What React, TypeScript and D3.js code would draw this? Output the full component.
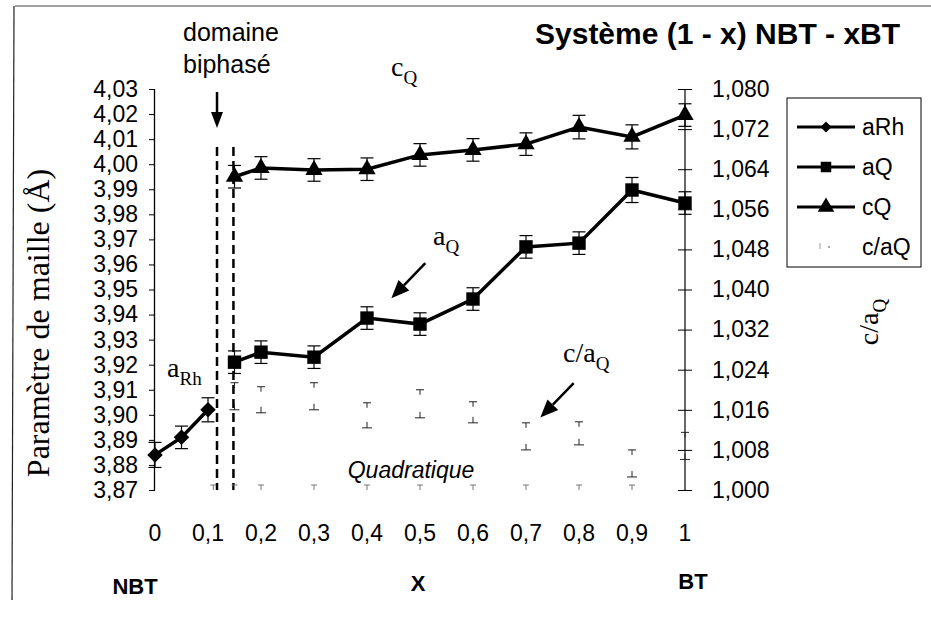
import * as d3 from "d3";
import { useEffect, useRef } from "react";

// données
const xsRh = [0, 0.05, 0.1];
const aRh = [3.884, 3.891, 3.902];
const aRhErr = [0.005, 0.0045, 0.0048];

const xsQ = [0.15, 0.2, 0.3, 0.4, 0.5, 0.6, 0.7, 0.8, 0.9, 1];
const aQ = [3.921, 3.925, 3.923, 3.9386, 3.9362, 3.9462, 3.967, 3.9685, 3.9897, 3.9845];
const aQErr = [0.0045, 0.0045, 0.0045, 0.0045, 0.0045, 0.0045, 0.0045, 0.0045, 0.005, 0.0045];
const cQ = [3.995, 3.9985, 3.9977, 3.998, 4.0037, 4.0057, 4.008, 4.0148, 4.0109, 4.0196];
const cQErr = [0.0045, 0.0045, 0.0045, 0.0045, 0.0045, 0.0045, 0.0045, 0.0047, 0.0048, 0.0045];
const caQ = [1.0187, 1.018, 1.0187, 1.0149, 1.0172, 1.0155, 1.0107, 1.0113, 1.0053, 1.0088];
const caQErr = [0.0027, 0.0026, 0.0027, 0.0025, 0.0028, 0.0021, 0.0027, 0.0023, 0.0027, 0.0027];
const caBaseX = [0.11, 0.15, 0.2, 0.3, 0.4, 0.5, 0.6, 0.7, 0.8, 0.9];

const leftTicks = [3.87, 3.88, 3.89, 3.9, 3.91, 3.92, 3.93, 3.94, 3.95, 3.96, 3.97, 3.98, 3.99, 4.0, 4.01, 4.02, 4.03];
const rightTicks = [1.0, 1.008, 1.016, 1.024, 1.032, 1.04, 1.048, 1.056, 1.064, 1.072, 1.08];
const xTicks = [0, 0.1, 0.2, 0.3, 0.4, 0.5, 0.6, 0.7, 0.8, 0.9, 1];
const biphaseBounds = [0.117, 0.148];
const legendNames = ["aRh", "aQ", "cQ", "c/aQ"];

const SANS = "'Liberation Sans', Arial, sans-serif";
const SERIF = "'Liberation Serif', 'Times New Roman', serif";

const App = () => {
    const chartRef = useRef<SVGSVGElement | null>(null);

    useEffect(() => {
        document.body.style.margin = "0";
        const svg = d3.select(chartRef.current);
        svg.selectAll("*").remove();

        const margin = { top: 89, bottom: 131, left: 155, right: 246 };
        const width = 931, height = 621;

        const x = d3.scaleLinear().domain([0, 1]).range([margin.left, width - margin.right]);
        const yL = d3.scaleLinear().domain([3.87, 4.03]).range([height - margin.bottom, margin.top]);
        const yR = d3.scaleLinear().domain([1.0, 1.08]).range([height - margin.bottom, margin.top]);

        const loc = d3.formatLocale({ decimal: ",", thousands: " ", grouping: [3], currency: ["", ""] });

        // cadre
        svg.append("line").attr("x1", 15).attr("y1", 6).attr("x2", width).attr("y2", 6)
            .attr("stroke", "#444").attr("stroke-width", 1);
        svg.append("line").attr("x1", 14).attr("y1", 6).attr("x2", 12).attr("y2", 600)
            .attr("stroke", "#222").attr("stroke-width", 1.2);

        // axe gauche
        const yAxisL = d3.axisLeft(yL).tickValues(leftTicks).tickSize(6).tickPadding(11)
            .tickFormat(d => loc.format(".2f")(d as number));
        const gL = svg.append("g").attr("transform", `translate(${margin.left},0)`).call(yAxisL);
        gL.select(".domain").attr("stroke", "#000").attr("stroke-width", 1.3).attr("d", `M-0.5,${yL(3.87)}V${yL(4.03)}`);
        gL.selectAll(".tick line").attr("stroke", "#000");
        gL.selectAll("text").attr("font-family", SANS).attr("font-size", 23).attr("fill", "#000");

        // axe droit
        const yAxisR = d3.axisRight(yR).tickValues(rightTicks).tickSize(0).tickPadding(27)
            .tickFormat(d => loc.format(".3f")(d as number));
        const xr = width - margin.right;
        const gR = svg.append("g").attr("transform", `translate(${xr},0)`).call(yAxisR);
        gR.select(".domain").attr("stroke", "#000").attr("stroke-width", 1.2).attr("d", `M0,${yR(1.0)}V${yR(1.08)}`);
        gR.selectAll("text").attr("font-family", SANS).attr("font-size", 23).attr("fill", "#000");
        gR.selectAll(".tick").append("line").attr("x1", -7).attr("x2", 7).attr("stroke", "#000");

        // étiquettes de l'axe x (sans ligne d'axe)
        svg.append("g").selectAll("text").data(xTicks).enter().append("text")
            .attr("x", d => x(d)).attr("y", 541)
            .attr("text-anchor", "middle").attr("font-family", SANS).attr("font-size", 23)
            .text(d => loc.format("~g")(d));

        // domaine biphasé
        biphaseBounds.forEach(b => {
            svg.append("line").attr("x1", x(b)).attr("x2", x(b)).attr("y1", 147).attr("y2", yL(3.87))
                .attr("stroke", "#000").attr("stroke-width", 2.5).attr("stroke-dasharray", "9,5");
        });

        const arrow = (x1: number, y1: number, x2: number, y2: number, head: number, w: number) => {
            const ang = Math.atan2(y2 - y1, x2 - x1);
            const bx = x2 - head * Math.cos(ang), by = y2 - head * Math.sin(ang);
            svg.append("line").attr("x1", x1).attr("y1", y1).attr("x2", bx).attr("y2", by)
                .attr("stroke", "#000").attr("stroke-width", 2.5);
            const px = -Math.sin(ang) * w / 2, py = Math.cos(ang) * w / 2;
            svg.append("path").attr("d", `M${x2},${y2}L${bx + px},${by + py}L${bx - px},${by - py}Z`).attr("fill", "#000");
        };
        arrow(x(biphaseBounds[0]), 92, x(biphaseBounds[0]), 128, 16, 12);
        arrow(x(0.51), yL(3.9605), x(0.446), yL(3.9465), 18, 15);
        arrow(x(0.79), yL(3.9126), x(0.727), yL(3.8989), 18, 15);

        // barres d'erreur
        const errBars = (xs: number[], v: number[], e: number[], y: d3.ScaleLinear<number, number>) => {
            const g = svg.append("g").attr("stroke", "#000").attr("stroke-width", 1.2);
            xs.forEach((xv, i) => {
                const top = y(v[i] + e[i]), bot = y(v[i] - e[i]);
                g.append("line").attr("x1", x(xv)).attr("x2", x(xv)).attr("y1", top).attr("y2", bot);
                g.append("line").attr("x1", x(xv) - 6.5).attr("x2", x(xv) + 6.5).attr("y1", top).attr("y2", top);
                g.append("line").attr("x1", x(xv) - 6.5).attr("x2", x(xv) + 6.5).attr("y1", bot).attr("y2", bot);
            });
        };

        // c/aQ : seulement les barres d'erreur, pâles
        const gca = svg.append("g").attr("stroke", "#222").attr("stroke-width", 1);
        xsQ.forEach((xv, i) => {
            const top = yR(caQ[i] + caQErr[i]), bot = yR(caQ[i] - caQErr[i]);
            gca.append("line").attr("x1", x(xv) - 4).attr("x2", x(xv) + 4).attr("y1", top).attr("y2", top);
            gca.append("line").attr("x1", x(xv)).attr("x2", x(xv)).attr("y1", top).attr("y2", top + 5);
            gca.append("line").attr("x1", x(xv) - 5).attr("x2", x(xv) + 5).attr("y1", bot).attr("y2", bot);
            gca.append("line").attr("x1", x(xv)).attr("x2", x(xv)).attr("y1", bot).attr("y2", bot - 6);
        });
        caBaseX.forEach(xv => {
            gca.append("line").attr("x1", x(xv) - 3).attr("x2", x(xv) + 3).attr("y1", yR(1.0) - 5).attr("y2", yR(1.0) - 5)
                .attr("stroke", "#777");
            gca.append("line").attr("x1", x(xv)).attr("x2", x(xv)).attr("y1", yR(1.0) - 5).attr("y2", yR(1.0))
                .attr("stroke", "#777");
        });

        errBars(xsRh, aRh, aRhErr, yL);
        errBars(xsQ, aQ, aQErr, yL);
        errBars(xsQ, cQ, cQErr, yL);

        // courbes
        const drawSeries = (xs: number[], v: number[], sym: d3.SymbolType, size: number, rot: number) => {
            const line = d3.line<number>().x((_, i) => x(xs[i])).y(d => yL(d));
            svg.append("path").datum(v).attr("d", line).attr("fill", "none")
                .attr("stroke", "#000").attr("stroke-width", 3.5);
            svg.append("g").selectAll("path").data(v).enter().append("path")
                .attr("d", d3.symbol(sym, size)())
                .attr("transform", (d, i) => `translate(${x(xs[i])},${yL(d)}) rotate(${rot})`)
                .attr("fill", "#000");
        };
        drawSeries(xsRh, aRh, d3.symbolSquare, 120, 45);
        drawSeries(xsQ, aQ, d3.symbolSquare, 180, 0);
        drawSeries(xsQ, cQ, d3.symbolTriangle, 130, 0);

        // annotations
        const sub = (tx: number, ty: number, main: string, s: string, size: number) => {
            const t = svg.append("text").attr("x", tx).attr("y", ty).attr("font-family", SERIF).attr("font-size", size);
            t.append("tspan").text(main);
            t.append("tspan").attr("dy", size * 0.3).attr("font-size", size * 0.68).text(s);
        };
        sub(391, 76, "c", "Q", 28);
        sub(433, 245, "a", "Q", 28);
        sub(563, 362, "c/a", "Q", 28);
        sub(167, 377, "a", "Rh", 28);

        svg.append("text").attr("x", 411).attr("y", 478).attr("text-anchor", "middle")
            .attr("font-family", SANS).attr("font-style", "italic").attr("font-size", 23).text("Quadratique");

        svg.append("text").attr("x", 183).attr("y", 41).attr("font-family", SANS).attr("font-size", 25).text("domaine");
        svg.append("text").attr("x", 183).attr("y", 73).attr("font-family", SANS).attr("font-size", 25).text("biphasé");

        svg.append("text").attr("x", 535).attr("y", 44).attr("font-family", SANS).attr("font-weight", "bold")
            .attr("font-size", 30).text("Système (1 - x) NBT - xBT");

        // titres d'axes
        svg.append("text").attr("transform", `translate(49,323) rotate(-90)`).attr("text-anchor", "middle")
            .attr("font-family", SERIF).attr("font-size", 32).text("Paramètre de maille (Å)");
        const rt = svg.append("text").attr("transform", `translate(878,322) rotate(-90)`).attr("text-anchor", "middle")
            .attr("font-family", SERIF).attr("font-size", 28);
        rt.append("tspan").text("c/a");
        rt.append("tspan").attr("dy", 8).attr("font-size", 19).text("Q");

        svg.append("text").attr("x", 135).attr("y", 594).attr("text-anchor", "middle").attr("font-family", SANS)
            .attr("font-weight", "bold").attr("font-size", 22).text("NBT");
        svg.append("text").attr("x", 418).attr("y", 591).attr("text-anchor", "middle").attr("font-family", SANS)
            .attr("font-weight", "bold").attr("font-size", 22).text("X");
        svg.append("text").attr("x", 693).attr("y", 589).attr("text-anchor", "middle").attr("font-family", SANS)
            .attr("font-weight", "bold").attr("font-size", 22).text("BT");

        // légende
        const lg = svg.append("g").attr("transform", "translate(787,98)");
        lg.append("rect").attr("width", 134).attr("height", 169).attr("fill", "none").attr("stroke", "#000").attr("stroke-width", 1);
        const legSyms: [d3.SymbolType, number, number][] = [
            [d3.symbolSquare, 60, 45], [d3.symbolSquare, 110, 0], [d3.symbolTriangle, 120, 0], [d3.symbolCircle, 0, 0]
        ];
        legendNames.forEach((name, i) => {
            const ly = 29 + i * 40;
            if (i < 3) {
                lg.append("line").attr("x1", 10).attr("x2", 68).attr("y1", ly).attr("y2", ly)
                    .attr("stroke", "#000").attr("stroke-width", 3);
                lg.append("path").attr("d", d3.symbol(legSyms[i][0], legSyms[i][1])())
                    .attr("transform", `translate(39,${ly}) rotate(${legSyms[i][2]})`).attr("fill", "#000");
            } else {
                lg.append("line").attr("x1", 33).attr("x2", 33).attr("y1", ly - 4).attr("y2", ly + 2).attr("stroke", "#999");
                lg.append("circle").attr("cx", 42).attr("cy", ly).attr("r", 1).attr("fill", "#888");
            }
            lg.append("text").attr("x", 75).attr("y", ly + 8).attr("font-family", SANS).attr("font-size", 23).text(name);
        });
    }, []);

    return (
        <svg ref={chartRef} width={931} height={621} style={{ display: "block", background: "#fff" }}></svg>
    );
};

export default App;
